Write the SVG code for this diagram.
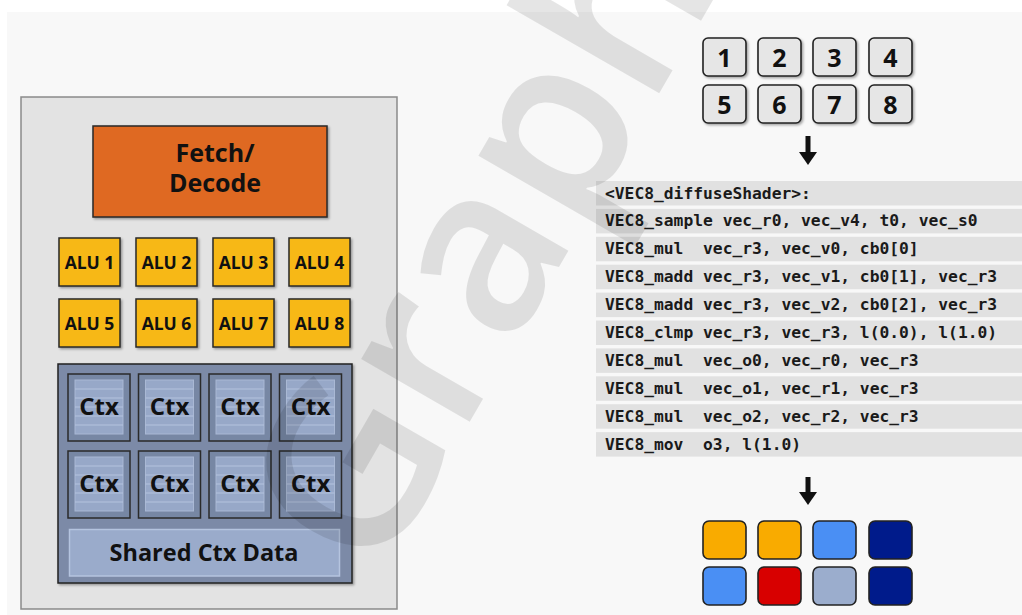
<svg xmlns="http://www.w3.org/2000/svg" width="1022" height="615" viewBox="0 0 1022 615">
<defs>
<style>
.bold{font-family:"Open Sans","Noto Sans",sans-serif;font-weight:700;fill:#111;text-anchor:middle}
.alu{fill:#f7b817;stroke:#2a2a2a;stroke-width:1.5}
.ctxo{fill:#7787a4;stroke:#2a2a2a;stroke-width:1.5}
.ctxi{fill:#97a8c8;stroke:#a9b8d4;stroke-width:1}
.cl{stroke:#b4c3de;stroke-width:1}
.num{fill:#e6e6e6;stroke:#222;stroke-width:1.6}
.sq{stroke:#222;stroke-width:1.6}
.band{fill:#e1e1e1}
.code{font-family:"DejaVu Sans Mono","Liberation Mono",monospace;font-size:16.3px;font-weight:700;fill:#1a1a1a;white-space:pre}
</style>
<filter id="sh" x="-20%" y="-20%" width="150%" height="150%">
<feDropShadow dx="1.5" dy="1.5" stdDeviation="1.2" flood-color="#000" flood-opacity="0.35"/>
</filter>
<marker id="ah" markerUnits="userSpaceOnUse" markerWidth="13" markerHeight="18" refX="0" refY="9" orient="auto" viewBox="0 0 13 18">
<path d="M0,0 L13,9 L0,18 Z" fill="#111"/>
</marker>
<g id="ctxbox">
<rect class="ctxo" x="0" y="0" width="62" height="67"/>
<rect class="ctxi" x="7" y="6" width="48" height="54"/>
<line class="cl" x1="7" y1="15" x2="55" y2="15"/>
<line class="cl" x1="7" y1="24" x2="55" y2="24"/>
<line class="cl" x1="7" y1="33" x2="55" y2="33"/>
<line class="cl" x1="7" y1="42" x2="55" y2="42"/>
<line class="cl" x1="7" y1="51" x2="55" y2="51"/>
<text class="bold" x="31" y="40.5" font-size="24">Ctx</text>
</g>
</defs>
<rect x="0" y="0" width="1022" height="615" fill="#ffffff"/>
<rect x="7" y="12" width="1015" height="603" fill="#f8f8f8"/>

<g id="core">
<rect x="21" y="97" width="376" height="512" fill="#e3e3e3" stroke="#8a8a8a" stroke-width="1.5"/>
</g>
<g id="fetch-decode">
<rect x="93" y="126" width="234" height="91" fill="#df6921" stroke="#2a2a2a" stroke-width="1.5" filter="url(#sh)"/>
<text class="bold" x="215" y="161.5" font-size="25">Fetch/</text>
<text class="bold" x="215" y="192" font-size="25">Decode</text>
</g>
<g id="alus">
<g id="alu1"><rect class="alu" x="59" y="238" width="61" height="48" filter="url(#sh)"/><text class="bold" x="89.5" y="268.5" font-size="17.5">ALU 1</text></g>
<g id="alu2"><rect class="alu" x="136" y="238" width="61" height="48" filter="url(#sh)"/><text class="bold" x="166.5" y="268.5" font-size="17.5">ALU 2</text></g>
<g id="alu3"><rect class="alu" x="213" y="238" width="61" height="48" filter="url(#sh)"/><text class="bold" x="243.5" y="268.5" font-size="17.5">ALU 3</text></g>
<g id="alu4"><rect class="alu" x="289" y="238" width="61" height="48" filter="url(#sh)"/><text class="bold" x="319.5" y="268.5" font-size="17.5">ALU 4</text></g>
<g id="alu5"><rect class="alu" x="59" y="299" width="61" height="48" filter="url(#sh)"/><text class="bold" x="89.5" y="329.5" font-size="17.5">ALU 5</text></g>
<g id="alu6"><rect class="alu" x="136" y="299" width="61" height="48" filter="url(#sh)"/><text class="bold" x="166.5" y="329.5" font-size="17.5">ALU 6</text></g>
<g id="alu7"><rect class="alu" x="213" y="299" width="61" height="48" filter="url(#sh)"/><text class="bold" x="243.5" y="329.5" font-size="17.5">ALU 7</text></g>
<g id="alu8"><rect class="alu" x="289" y="299" width="61" height="48" filter="url(#sh)"/><text class="bold" x="319.5" y="329.5" font-size="17.5">ALU 8</text></g>
</g>

<g id="ctx-storage">
<rect x="58" y="364" width="294" height="219" fill="#7b8aa7" stroke="#222" stroke-width="1.5" filter="url(#sh)"/>
</g>
<g id="ctx1"><use href="#ctxbox" x="68" y="374"/></g>
<g id="ctx2"><use href="#ctxbox" x="138.5" y="374"/></g>
<g id="ctx3"><use href="#ctxbox" x="209" y="374"/></g>
<g id="ctx4"><use href="#ctxbox" x="279.5" y="374"/></g>
<g id="ctx5"><use href="#ctxbox" x="68" y="451"/></g>
<g id="ctx6"><use href="#ctxbox" x="138.5" y="451"/></g>
<g id="ctx7"><use href="#ctxbox" x="209" y="451"/></g>
<g id="ctx8"><use href="#ctxbox" x="279.5" y="451"/></g>
<g id="shared-ctx">
<rect x="69.5" y="529.5" width="270" height="46.5" fill="#9aabcb" stroke="#b5c4df" stroke-width="1.5"/>
<text class="bold" x="204" y="561" font-size="23.5">Shared Ctx Data</text>
</g>

<g id="fragments">
<g id="f1"><rect class="num" x="703" y="38" width="43" height="38" rx="5" filter="url(#sh)"/><text class="bold" x="724.5" y="67" font-size="25">1</text></g>
<g id="f2"><rect class="num" x="758" y="38" width="43" height="38" rx="5" filter="url(#sh)"/><text class="bold" x="779.5" y="67" font-size="25">2</text></g>
<g id="f3"><rect class="num" x="813" y="38" width="43" height="38" rx="5" filter="url(#sh)"/><text class="bold" x="834.5" y="67" font-size="25">3</text></g>
<g id="f4"><rect class="num" x="869" y="38" width="43" height="38" rx="5" filter="url(#sh)"/><text class="bold" x="890.5" y="67" font-size="25">4</text></g>
<g id="f5"><rect class="num" x="703" y="85" width="43" height="38" rx="5" filter="url(#sh)"/><text class="bold" x="724.5" y="113.5" font-size="25">5</text></g>
<g id="f6"><rect class="num" x="758" y="85" width="43" height="38" rx="5" filter="url(#sh)"/><text class="bold" x="779.5" y="113.5" font-size="25">6</text></g>
<g id="f7"><rect class="num" x="813" y="85" width="43" height="38" rx="5" filter="url(#sh)"/><text class="bold" x="834.5" y="113.5" font-size="25">7</text></g>
<g id="f8"><rect class="num" x="869" y="85" width="43" height="38" rx="5" filter="url(#sh)"/><text class="bold" x="890.5" y="113.5" font-size="25">8</text></g>
</g>

<g id="shader-code">
<rect class="band" x="596" y="181" width="426" height="24.5"/>
<rect class="band" x="596" y="208.9" width="426" height="24.5"/>
<rect class="band" x="596" y="236.8" width="426" height="24.5"/>
<rect class="band" x="596" y="264.7" width="426" height="24.5"/>
<rect class="band" x="596" y="292.6" width="426" height="24.5"/>
<rect class="band" x="596" y="320.5" width="426" height="24.5"/>
<rect class="band" x="596" y="348.4" width="426" height="24.5"/>
<rect class="band" x="596" y="376.3" width="426" height="24.5"/>
<rect class="band" x="596" y="404.2" width="426" height="24.5"/>
<rect class="band" x="596" y="432.1" width="426" height="24.5"/>
<text class="code" x="605" y="198.5">&lt;VEC8_diffuseShader&gt;:</text>
<text class="code" x="605" y="226.4">VEC8_sample vec_r0, vec_v4, t0, vec_s0</text>
<text class="code" x="605" y="254.3">VEC8_mul  vec_r3, vec_v0, cb0[0]</text>
<text class="code" x="605" y="282.2">VEC8_madd vec_r3, vec_v1, cb0[1], vec_r3</text>
<text class="code" x="605" y="310.1">VEC8_madd vec_r3, vec_v2, cb0[2], vec_r3</text>
<text class="code" x="605" y="338">VEC8_clmp vec_r3, vec_r3, l(0.0), l(1.0)</text>
<text class="code" x="605" y="365.9">VEC8_mul  vec_o0, vec_r0, vec_r3</text>
<text class="code" x="605" y="393.8">VEC8_mul  vec_o1, vec_r1, vec_r3</text>
<text class="code" x="605" y="421.7">VEC8_mul  vec_o2, vec_r2, vec_r3</text>
<text class="code" x="605" y="449.6">VEC8_mov  o3, l(1.0)</text>
</g>

<g id="outputs">
<g id="o1"><rect class="sq" x="703" y="521" width="43" height="38" rx="6" fill="#f9ab00"/></g>
<g id="o2"><rect class="sq" x="758" y="521" width="43" height="38" rx="6" fill="#f9ab00"/></g>
<g id="o3"><rect class="sq" x="813" y="521" width="43" height="38" rx="6" fill="#4a8ff4"/></g>
<g id="o4"><rect class="sq" x="869" y="521" width="43" height="38" rx="6" fill="#001b8b"/></g>
<g id="o5"><rect class="sq" x="703" y="567" width="43" height="38" rx="6" fill="#4a8ff4"/></g>
<g id="o6"><rect class="sq" x="758" y="567" width="43" height="38" rx="6" fill="#d80000"/></g>
<g id="o7"><rect class="sq" x="813" y="567" width="43" height="38" rx="6" fill="#9badcd"/></g>
<g id="o8"><rect class="sq" x="869" y="567" width="43" height="38" rx="6" fill="#001b8b"/></g>
</g>

<g id="connectors" stroke="#111" stroke-width="5" fill="none">
<line x1="808" y1="136" x2="808" y2="152" marker-end="url(#ah)"/>
<line x1="808" y1="477" x2="808" y2="492" marker-end="url(#ah)"/>
</g>

<g id="watermark">
<text transform="translate(376,584) rotate(-60)" x="0" y="0" font-family="Open Sans, sans-serif" font-weight="600" font-size="232" fill="#000" fill-opacity="0.1">Graph</text>
</g>
</svg>
